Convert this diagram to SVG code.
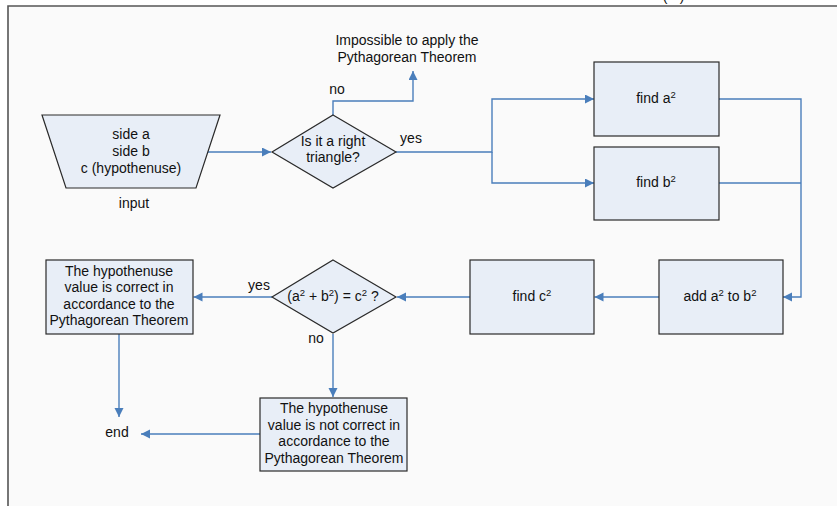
<svg xmlns="http://www.w3.org/2000/svg" width="837" height="506" viewBox="0 0 837 506">
<defs>
<style>
text{font-family:"Liberation Sans",Arial,sans-serif;font-size:14px;fill:#111;text-anchor:middle}
.shape{fill:#e8eef7;stroke:#2a2a2a;stroke-width:1.2}
.conn path{fill:none;stroke:#4a7ebb;stroke-width:1.4}
.sup{font-size:9.5px;baseline-shift:5px}
</style>
<marker id="arr" markerUnits="userSpaceOnUse" markerWidth="10" markerHeight="10" refX="9" refY="4.5" orient="auto">
<path d="M0,0 L9,4.5 L0,9 z" fill="#4a7ebb"/>
</marker>
</defs>
<rect x="0" y="0" width="837" height="506" fill="#ffffff"/>
<rect x="8" y="6" width="829" height="500" fill="#fafafa"/>
<path d="M8,506 V6 H837" fill="none" stroke="#555" stroke-width="1.6"/>
<text y="1"><tspan x="665">(</tspan><tspan x="682">)</tspan></text>

<g id="connectors" class="conn">
<path d="M207,152 H271" marker-end="url(#arr)"/>
<path d="M333,115 V101 H413 V71" marker-end="url(#arr)"/>
<path d="M396,152 H492 V99 H594" marker-end="url(#arr)"/>
<path d="M492,152 V183 H594" marker-end="url(#arr)"/>
<path d="M719,99 H801 V297 H783" marker-end="url(#arr)"/>
<path d="M719,183 H801"/>
<path d="M659,297 H594.5" marker-end="url(#arr)"/>
<path d="M470,297 H397" marker-end="url(#arr)"/>
<path d="M272,297 H193.5" marker-end="url(#arr)"/>
<path d="M119,334 V417" marker-end="url(#arr)"/>
<path d="M333,334 V397" marker-end="url(#arr)"/>
<path d="M260,434 H141" marker-end="url(#arr)"/>
</g>

<g id="input">
<path class="shape" d="M42,115 H220 L196,188 H66 Z"/>
<text x="131" y="139">side a</text>
<text x="131" y="156">side b</text>
<text x="131" y="173">c (hypothenuse)</text>
<text x="134" y="208">input</text>
</g>

<g id="decision1">
<path class="shape" d="M333,115 L396,152 L333,188 L272,152 Z"/>
<text x="333" y="146">Is it a right</text>
<text x="333" y="162">triangle?</text>
</g>

<g id="impossible">
<text x="407" y="45">Impossible to apply the</text>
<text x="407" y="62">Pythagorean Theorem</text>
</g>

<g id="labels">
<text x="337" y="94">no</text>
<text x="411" y="143">yes</text>
<text x="259" y="290">yes</text>
<text x="316" y="343">no</text>
</g>

<g id="findA">
<rect class="shape" x="594" y="62" width="125" height="74"/>
<text x="656" y="103">find a<tspan class="sup">2</tspan></text>
</g>

<g id="findB">
<rect class="shape" x="594" y="147" width="125" height="73"/>
<text x="656" y="187">find b<tspan class="sup">2</tspan></text>
</g>

<g id="add">
<rect class="shape" x="659" y="260" width="124" height="74"/>
<text x="720" y="301">add a<tspan class="sup">2</tspan> to b<tspan class="sup">2</tspan></text>
</g>

<g id="findC">
<rect class="shape" x="470" y="260" width="124" height="74"/>
<text x="532" y="301">find c<tspan class="sup">2</tspan></text>
</g>

<g id="decision2">
<path class="shape" d="M333,260 L396,297 L333,333 L272,297 Z"/>
<text x="333" y="301">(a<tspan class="sup">2</tspan> + b<tspan class="sup">2</tspan>) = c<tspan class="sup">2</tspan> ?</text>
</g>

<g id="correct">
<rect class="shape" x="46" y="260" width="147" height="74"/>
<text x="119" y="276">The hypothenuse</text>
<text x="119" y="292">value is correct in</text>
<text x="119" y="308.5">accordance to the</text>
<text x="119" y="325">Pythagorean Theorem</text>
</g>

<g id="notcorrect">
<rect class="shape" x="260" y="398" width="147" height="73"/>
<text x="334" y="413">The hypothenuse</text>
<text x="334" y="429.5">value is not correct in</text>
<text x="334" y="446">accordance to the</text>
<text x="334" y="463">Pythagorean Theorem</text>
</g>

<g id="end">
<text x="117" y="437">end</text>
</g>
</svg>
